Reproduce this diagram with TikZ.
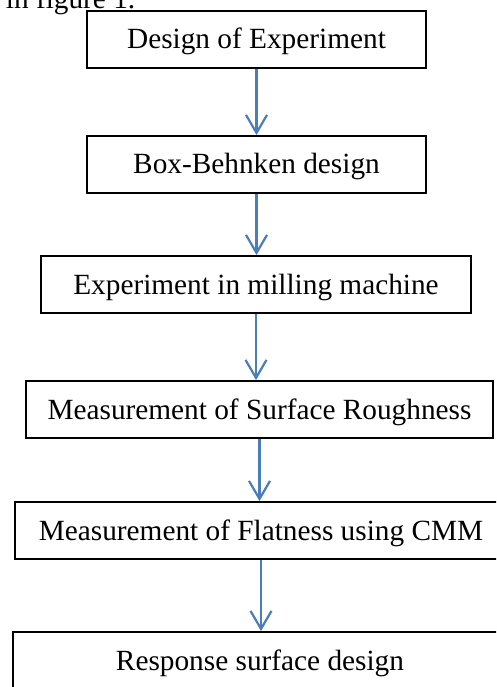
\documentclass[tikz,border=0pt]{standalone}
\usepackage{fontspec}
\setmainfont{Liberation Serif}
\usetikzlibrary{arrows.meta}
\definecolor{flowblue}{HTML}{4A7EBB}

\begin{document}
\begin{tikzpicture}[x=1pt, y=-1pt, line width=1.8pt,
  stage/.style={draw, rectangle, minimum height=57pt, inner sep=0pt,
    text height=21pt, text depth=2pt, font=\fontsize{29.3}{35}\selectfont},
  flow/.style={draw=flowblue, line width=2.2pt,
    -{Straight Barb[length=18pt, width=21pt]}}]

  \useasboundingbox (0,0) rectangle (496,687);
  \clip (0,0) rectangle (496,687);

  % running text above the chart, cut by the page edge
  \node [anchor=base west, inner sep=0pt, font=\fontsize{29.3}{35}\selectfont]
    (caption) at (5,9) {in figure 1.};

  \node [stage, minimum width=339pt] (doe)      at (256.5,39.5)  {Design of Experiment};
  \node [stage, minimum width=339pt] (bbd)      at (256.5,164.5) {Box-Behnken design};
  \node [stage, minimum width=430pt] (milling)  at (256,284.5)   {Experiment in milling machine};
  \node [stage, minimum width=467pt] (rough)    at (259.5,409.5) {Measurement of Surface Roughness};
  \node [stage, minimum width=492pt] (flat)     at (261,530.5)   {Measurement of Flatness using CMM};
  \node [stage, minimum width=494pt] (response) at (260,660.5)   {Response surface design};

  \path
    (doe.south)     edge [flow] (doe.south |- bbd.north)
    (bbd.south)     edge [flow] (bbd.south |- milling.north)
    (milling.south) edge [flow] (milling.south |- rough.north)
    (rough.south)   edge [flow] (rough.south |- flat.north)
    (flat.south)    edge [flow] (flat.south |- response.north)
  ;

\end{tikzpicture}
\end{document}
